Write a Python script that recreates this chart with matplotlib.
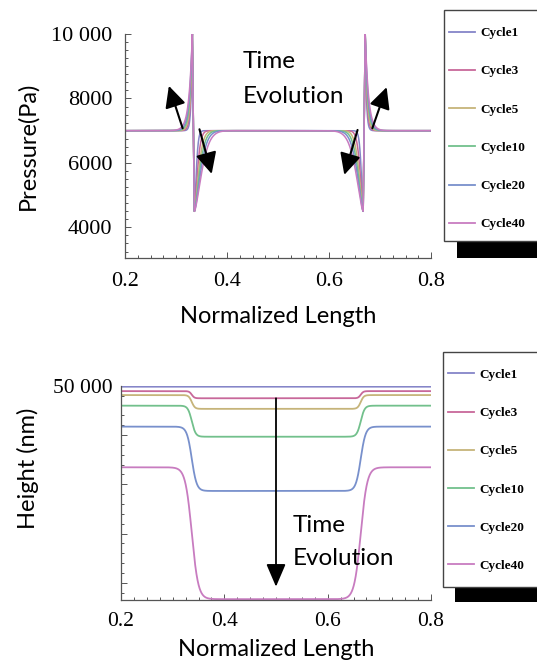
import numpy as np
import matplotlib
matplotlib.use("Agg")
import matplotlib.pyplot as plt
from matplotlib.patches import Rectangle
from matplotlib.lines import Line2D
from matplotlib.ticker import MultipleLocator, FixedLocator, FixedFormatter

# ---------------- data ----------------
cycles = ["Cycle1", "Cycle3", "Cycle5", "Cycle10", "Cycle20", "Cycle40"]
colors = ["#8585c8", "#c8689a", "#c6b47a", "#72c08c", "#7890cc", "#c87cc0"]

# pressure profile parameters
p_base = 7000.0
p_peak = 10000.0
p_trough = 4500.0
p_feature_x = [0.332, 0.336, 0.667, 0.671]       # left peak, left trough, right trough, right peak
p_rise_width = [0.0023, 0.0031, 0.0039, 0.0047, 0.0055, 0.0064]
p_recovery_width = [0.005, 0.008, 0.011, 0.0135, 0.016, 0.019]

# height profile parameters
h_outer = [49800, 48900, 48100, 45950, 41700, 33450]
h_inner = [49800, 47450, 45300, 39650, 28650, 6700]
h_edges = [0.337, 0.664]
h_edge_width = [0.004, 0.005, 0.006, 0.0075, 0.0095, 0.0125]

x_ticks = [0.2, 0.4, 0.6, 0.8]
p_ticks = [4000, 6000, 8000, 10000]
p_ticklabels = ["4000", "6000", "8000", "10 000"]
h_ticks = [10000, 20000, 30000, 40000, 50000]
h_ticklabels = ["", "", "", "", "50 000"]

# ---------------- figure ----------------
W, H = 537, 665
fig = plt.figure(figsize=(W / 100, H / 100), dpi=100)

SANS = ["Lato", "DejaVu Sans"]
SERIF = ["Liberation Serif", "DejaVu Serif"]
AX_COL = "#555555"


def fx(px):
    return px / W


def fy(py):
    return 1 - py / H


def style_axes(ax, tick_size):
    for s in ["top", "right"]:
        ax.spines[s].set_visible(False)
    for s in ["left", "bottom"]:
        ax.spines[s].set_color(AX_COL)
        ax.spines[s].set_linewidth(0.9)
    ax.tick_params(which="both", direction="in", colors=AX_COL, width=0.7)
    ax.tick_params(which="major", length=4)
    ax.tick_params(which="minor", length=2)
    for lab in ax.get_xticklabels() + ax.get_yticklabels():
        lab.set_fontfamily(SERIF)
        lab.set_fontsize(tick_size)
        lab.set_color("black")


# ---- top: pressure ----
ax1 = fig.add_axes([fx(125), fy(258), fx(431) - fx(125), fy(34) - fy(258)])
x = np.unique(np.concatenate([np.linspace(0.2, 0.8, 6001), p_feature_x]))
xp1, xm1, xm2, xp2 = p_feature_x
mid = 0.5 * (xm1 + xm2)
for name, col, wr, sr in zip(cycles, colors, p_rise_width, p_recovery_width):
    p = np.full_like(x, p_base)
    m = x <= xp1
    p[m] += (p_peak - p_base) * np.exp(-(xp1 - x[m]) / wr)
    m = (x > xp1) & (x < xm1)
    p[m] = p_peak + (p_trough - p_peak) * (x[m] - xp1) / (xm1 - xp1)
    m = (x >= xm1) & (x <= mid)
    p[m] -= (p_base - p_trough) * np.exp(-((x[m] - xm1) / sr) ** 1.5)
    m = (x > mid) & (x <= xm2)
    p[m] -= (p_base - p_trough) * np.exp(-((xm2 - x[m]) / sr) ** 1.5)
    m = (x > xm2) & (x < xp2)
    p[m] = p_trough + (p_peak - p_trough) * (x[m] - xm2) / (xp2 - xm2)
    m = x >= xp2
    p[m] += (p_peak - p_base) * np.exp(-(x[m] - xp2) / wr)
    ax1.plot(x, p, color=col, lw=1.1, label=name, clip_on=True)

ax1.set_xlim(0.2, 0.8)
ax1.set_ylim(3050, 10000)
ax1.xaxis.set_major_locator(FixedLocator(x_ticks))
ax1.xaxis.set_minor_locator(MultipleLocator(0.025))
ax1.yaxis.set_major_locator(FixedLocator(p_ticks))
ax1.yaxis.set_major_formatter(FixedFormatter(p_ticklabels))
ax1.yaxis.set_minor_locator(MultipleLocator(250))
ax1.tick_params(axis="x", pad=10)
ax1.tick_params(axis="y", pad=9)
style_axes(ax1, 16)
ax1.set_xlabel("Normalized Length", fontfamily=SANS, fontsize=17)
ax1.xaxis.set_label_coords(0.5, -0.215)
ax1.set_ylabel("Pressure(Pa)", fontfamily=SANS, fontsize=17)
ax1.yaxis.set_label_coords(-0.282, 0.5)

ax1.text(0.4308, 8600, "Time\nEvolution", fontfamily=SANS, fontsize=17.5,
         ha="left", va="center", linespacing=1.78)
arrow_kw = dict(arrowstyle="-|>,head_length=0.65,head_width=0.32", color="black",
                lw=1.5, mutation_scale=20, shrinkA=0, shrinkB=0)
top_arrows = [((0.313, 7076), (0.286, 8390)),
              ((0.346, 7044), (0.370, 5660)),
              ((0.656, 7023), (0.630, 5630)),
              ((0.685, 7076), (0.713, 8350))]
for (x0, y0), (x1, y1) in top_arrows:
    ax1.annotate("", xy=(x1, y1), xytext=(x0, y0), arrowprops=arrow_kw)

# ---- bottom: height ----
ax2 = fig.add_axes([fx(121), fy(600), fx(431) - fx(121), fy(385.7) - fy(600)])
xh = np.linspace(0.2, 0.8, 3001)
for name, col, ho, hi, w in zip(cycles, colors, h_outer, h_inner, h_edge_width):
    well = 0.5 * (np.tanh((xh - h_edges[0]) / w) - np.tanh((xh - h_edges[1]) / w))
    h = ho - (ho - hi) * well
    ax2.plot(xh, h, color=col, lw=1.3, label=name)

ax2.set_xlim(0.2, 0.8)
ax2.set_ylim(6530, 50000)
ax2.xaxis.set_major_locator(FixedLocator(x_ticks))
ax2.xaxis.set_minor_locator(MultipleLocator(0.025))
ax2.yaxis.set_major_locator(FixedLocator(h_ticks))
ax2.yaxis.set_major_formatter(FixedFormatter(h_ticklabels))
ax2.yaxis.set_minor_locator(MultipleLocator(2000))
ax2.tick_params(axis="x", pad=9)
ax2.tick_params(axis="y", pad=6)
style_axes(ax2, 15.5)
ax2.set_xlabel("Normalized Length", fontfamily=SANS, fontsize=17)
ax2.xaxis.set_label_coords(0.502, -0.180)
ax2.set_ylabel("Height (nm)", fontfamily=SANS, fontsize=17)
ax2.yaxis.set_label_coords(-0.266, 0.616)

ax2.text(0.532, 18300, "Time\nEvolution", fontfamily=SANS, fontsize=17.5,
         ha="left", va="center", linespacing=1.75)
ax2.annotate("", xy=(0.5, 9230), xytext=(0.5, 47450),
             arrowprops=dict(arrowstyle="-|>,head_length=0.7,head_width=0.3",
                             color="black", lw=1.3, mutation_scale=20,
                             shrinkA=0, shrinkB=0))

# ---- legends ----
def legend_box(box_left, box_top, box_bottom, shadow_left, shadow_bottom, first_row):
    fig.add_artist(Rectangle((fx(shadow_left), fy(shadow_bottom)),
                             fx(W + 10) - fx(shadow_left), fy(box_bottom) - fy(shadow_bottom),
                             transform=fig.transFigure, facecolor="black",
                             edgecolor="none", zorder=1))
    fig.add_artist(Rectangle((fx(box_left), fy(box_bottom)),
                             fx(W + 10) - fx(box_left), fy(box_top) - fy(box_bottom),
                             transform=fig.transFigure, facecolor="white",
                             edgecolor="#444444", lw=1.0, zorder=2))
    handles = [Line2D([], [], color=c, lw=1.3) for c in colors]
    leg = fig.legend(handles, cycles, loc="upper left",
                     bbox_to_anchor=(fx(box_left + 5), fy(first_row - 5.3)),
                     bbox_transform=fig.transFigure, frameon=False,
                     prop=dict(family=SERIF, weight="bold", size=9.5),
                     handlelength=2.0, handletextpad=0.4, labelspacing=1.97,
                     borderpad=0, borderaxespad=0)
    leg.set_zorder(3)


legend_box(443.7, 10, 240.7, 456.7, 258.3, 32.3)
legend_box(442.7, 351.7, 586.7, 455, 601.7, 374)

fig.savefig("out.png", dpi=100)
